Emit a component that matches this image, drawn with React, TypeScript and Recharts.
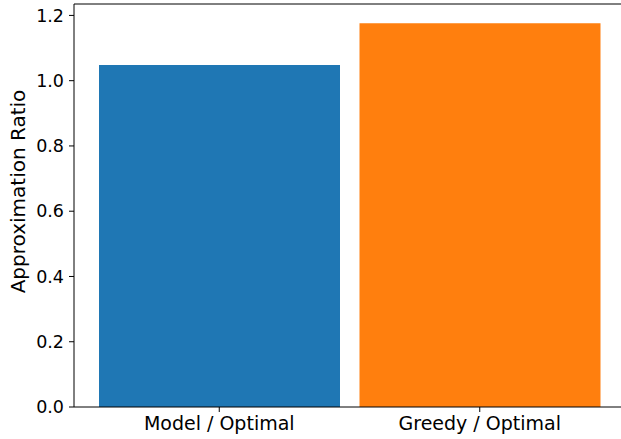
import { BarChart, Bar, XAxis, YAxis, Cell, ReferenceLine } from 'recharts'

const categories = ['Model / Optimal', 'Greedy / Optimal']
const ratios = [1.048, 1.176]
const COLORS = ['#1f77b4', '#ff7f0e']
const yTicks = [0, 0.2, 0.4, 0.6, 0.8, 1.0, 1.2]
const yMax = 1.235

const data = categories.map((name, i) => ({ name, ratio: ratios[i] }))

const font = 'DejaVu Sans, sans-serif'

// rotated y-axis title, placed by hand like matplotlib's ylabel
const YTitle = () => (
    <text
        x={18}
        y={191.5}
        transform="rotate(-90 18 191.5)"
        textAnchor="middle"
        dominantBaseline="central"
        fontSize={20}
        fontFamily={font}
        fill="#000"
    >
        Approximation Ratio
    </text>
)

export default function App() {
    return (
        <div style={{ position: 'absolute', left: 0, top: 0, width: 621, height: 439, overflow: 'hidden', background: '#fff' }}>
            <BarChart
                width={625}
                height={439}
                data={data}
                margin={{ top: 4, right: 0, bottom: 0, left: 0 }}
                barCategoryGap={10}
            >
                <XAxis
                    dataKey="name"
                    height={32}
                    padding={{ left: 15, right: 15 }}
                    stroke="#000"
                    tickLine={{ stroke: '#000' }}
                    tickSize={5}
                    tickMargin={5}
                    tick={{ fill: '#000', fontSize: 19, fontFamily: font }}
                />
                <YAxis
                    width={74}
                    domain={[0, yMax]}
                    ticks={yTicks}
                    tickFormatter={(v: number) => v.toFixed(1)}
                    stroke="#000"
                    tickLine={{ stroke: '#000' }}
                    tickSize={5}
                    tickMargin={5}
                    tick={{ fill: '#000', fontSize: 17.5, fontFamily: font }}
                    label={<YTitle />}
                />
                <ReferenceLine y={yMax} stroke="#000" />
                <Bar dataKey="ratio" isAnimationActive={false}>
                    {data.map((entry, index) => (
                        <Cell key={`cell-${index}`} fill={COLORS[index % COLORS.length]} />
                    ))}
                </Bar>
            </BarChart>
        </div>
    )
}
